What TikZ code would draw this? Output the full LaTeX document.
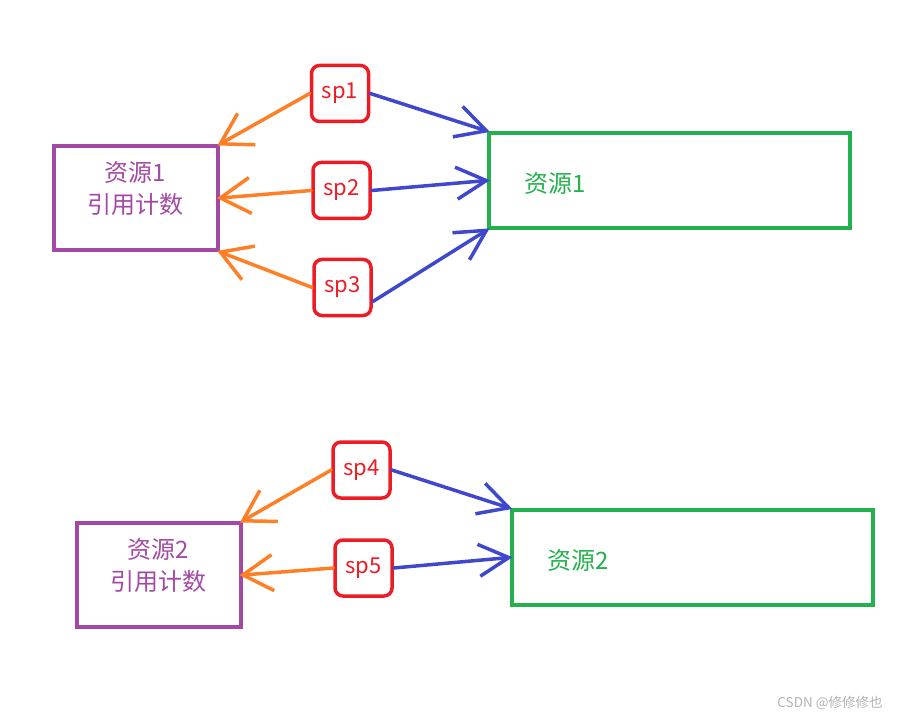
\documentclass[tikz,border=0pt]{standalone}
\usepackage{fontspec}
\setmainfont{Noto Sans CJK SC}
\usetikzlibrary{arrows.meta}
\definecolor{cntpurple}{HTML}{A349A4}
\definecolor{resgreen}{HTML}{22B14C}
\definecolor{spred}{HTML}{ED1C24}
\definecolor{refoarnge}{HTML}{FF7F27}
\definecolor{ptrblue}{HTML}{3F48CC}
\tikzset{
  cntbox/.style={draw=cntpurple, line width=4pt, minimum width=164pt, minimum height=104pt},
  resbox/.style={draw=resgreen, line width=4pt, minimum width=361pt, minimum height=95pt},
  spbox/.style={draw=spred, line width=3.5pt, rounded corners=8pt, minimum width=57pt,
    minimum height=56pt, text=spred, font=\fontsize{22}{24}\selectfont},
  cnttext/.style={text=cntpurple, font=\fontsize{24}{32}\selectfont, align=center},
  restext/.style={text=resgreen, font=\fontsize{24}{28}\selectfont},
  toref/.style={draw=refoarnge, line width=3.5pt, line cap=round, shorten >=-3pt,
    -{Straight Barb[length=30pt,width=36pt,line width=3.5pt]}},
  topoint/.style={draw=ptrblue, line width=3.5pt, line cap=round, shorten >=-3pt,
    -{Straight Barb[length=30pt,width=32pt,line width=3.5pt]}}
}
\begin{document}
\begin{tikzpicture}[x=1pt, y=-1pt]
  \useasboundingbox (0,0) rectangle (899,719);
  % first resource
  \node[cntbox] (cnt1) at (136,198) {};
  \node[cnttext] at (135,188) {资源1\\引用计数};
  \node[resbox] (res1) at (669.5,180.5) {};
  \node[restext] at (555,183) {资源1};
  \node[spbox] (sp1) at (340,93.5) {sp1};
  \node[spbox] (sp2) at (341.5,190.5) {sp2};
  \node[spbox] (sp3) at (342.5,287.5) {sp3};
  \draw[toref] (sp1.west) -- (cnt1.north east);
  \draw[toref] (sp2.west) -- (cnt1.east);
  \draw[toref] (sp3.west) -- (cnt1.south east);
  \draw[topoint] (sp1.east) -- (res1.north west);
  \draw[topoint] (sp2.east) -- (res1.west);
  \draw[topoint] (sp3.-25) -- (res1.south west);
  % second resource
  \node[cntbox] (cnt2) at (158.5,575) {};
  \node[cnttext] at (158,565) {资源2\\引用计数};
  \node[resbox] (res2) at (692,557.5) {};
  \node[restext] at (578,560) {资源2};
  \node[spbox] (sp4) at (361.5,470) {sp4};
  \node[spbox] (sp5) at (363.5,568) {sp5};
  \draw[toref] (sp4.west) -- (cnt2.north east);
  \draw[toref] (sp5.west) -- (cnt2.east);
  \draw[topoint] (sp4.east) -- (res2.north west);
  \draw[topoint] (sp5.east) -- (res2.west);
  % watermark
  \node[text=gray!60, font=\fontsize{13.5}{15}\selectfont] (mark) at (830,703) {CSDN @修修修也};
\end{tikzpicture}
\end{document}
